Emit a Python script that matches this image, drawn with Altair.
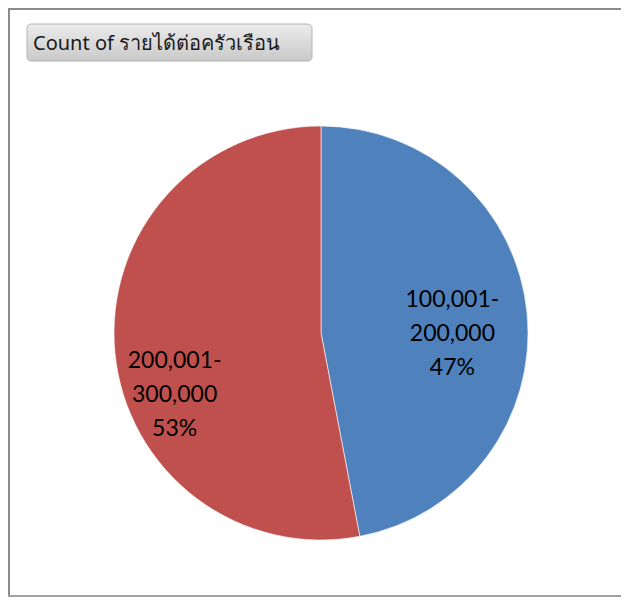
import altair as alt
import pandas as pd
import math

categories = ["100,001-200,000", "200,001-300,000"]
counts = [47, 53]
title_text = "Count of รายได้ต่อครัวเรือน"
colors = ["#4F81BD", "#C0504D"]

total = sum(counts)
df = pd.DataFrame({
    "cat": categories,
    "count": counts,
    "order": list(range(len(categories))),
})
df["label"] = [c.replace("-", "-\n") + "\n" + f"{round(v / total * 100)}%" for c, v in zip(categories, counts)]

W, H = 613, 589
CX, CY, R = 313, 325, 207

base = alt.Chart(df)

pie = base.mark_arc(outerRadius=R, stroke="#ffffff", strokeWidth=0.6).encode(
    theta=alt.Theta("count:Q", stack=True),
    color=alt.Color("cat:N", scale=alt.Scale(domain=categories, range=colors), legend=None),
    order=alt.Order("order:Q"),
    x=alt.value(CX),
    y=alt.value(CY),
)

def label_layer(cat, radius, dy):
    return base.transform_joinaggregate(
        tot="sum(count)"
    ).transform_window(
        cum="sum(count)", sort=[alt.SortField("order")]
    ).transform_calculate(
        mid="(datum.cum - datum.count / 2) / datum.tot"
    ).transform_filter(alt.datum.cat == cat).mark_text(
        radius=radius, dy=dy, font="Lato", fontSize=23, color="#000000",
        lineBreak="\n", lineHeight=34, align="center", baseline="middle",
    ).encode(
        theta=alt.Theta("mid:Q", stack=None,
                        scale=alt.Scale(domain=[0, 1], range=[0, 2 * math.pi])),
        text="label:N",
        x=alt.value(CX),
        y=alt.value(CY),
    )

lab1 = label_layer(categories[0], 132, -21)
lab2 = label_layer(categories[1], 147, 14)

frame_df = pd.DataFrame({"k": [0]})
frame = alt.Chart(frame_df)
left = frame.mark_rule(color="#8c8c8c", strokeWidth=2).encode(
    x=alt.value(1), y=alt.value(0), y2=alt.value(H))
top = frame.mark_rule(color="#8c8c8c", strokeWidth=2).encode(
    x=alt.value(0), x2=alt.value(W), y=alt.value(1))
bottom = frame.mark_rule(color="#a0a0a0", strokeWidth=2).encode(
    x=alt.value(0), x2=alt.value(W), y=alt.value(H - 1))

button = frame.mark_rect(
    cornerRadius=4, stroke="#b4b4b4", strokeWidth=1,
    fill=alt.Gradient(
        gradient="linear", x1=0, y1=0, x2=0, y2=1,
        stops=[alt.GradientStop(color="#ececec", offset=0),
               alt.GradientStop(color="#c9c9c9", offset=1)],
    ),
).encode(x=alt.value(19), x2=alt.value(304), y=alt.value(16), y2=alt.value(53))

title = frame.mark_text(
    align="left", baseline="middle", font="Tahoma, Noto Sans, sans-serif",
    fontSize=20, color="#1a1a1a",
).encode(x=alt.value(25), y=alt.value(36), text=alt.value(title_text))

chart = alt.layer(pie, lab1, lab2, left, top, bottom, button, title).resolve_scale(
    theta="independent"
).properties(
    width=W, height=H, padding=0, autosize=alt.AutoSizeParams(type="none"),
).configure_view(stroke=None)

chart.save("out.html", embed_options={"renderer": "svg", "actions": False})
